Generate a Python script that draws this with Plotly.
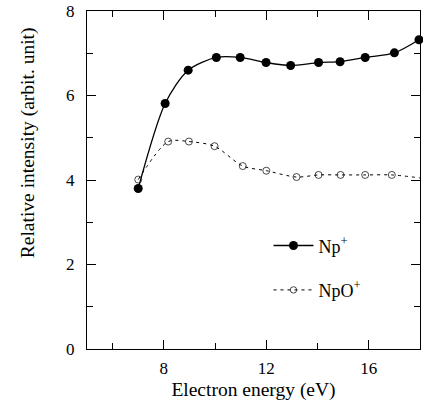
import plotly.graph_objects as go

np_x = [7.0, 8.05, 8.95, 10.05, 10.98, 11.99, 12.95, 14.04, 14.88, 15.86, 17.0, 17.96]
np_y = [3.80, 5.81, 6.60, 6.90, 6.90, 6.78, 6.71, 6.78, 6.80, 6.90, 7.01, 7.32]

npo_x = [7.0, 8.17, 8.98, 9.98, 11.08, 12.0, 13.18, 14.04, 14.9, 15.86, 16.9, 18.0]
npo_y = [4.01, 4.91, 4.91, 4.80, 4.33, 4.22, 4.07, 4.12, 4.12, 4.12, 4.12, 4.05]
npo_marker_size = [7] * 11 + [0]

x_title = "Electron energy (eV)"
y_title = "Relative intensity (arbit. unit)"

font_family = "Times New Roman, serif"

fig = go.Figure()
fig.add_trace(go.Scatter(
    x=np_x, y=np_y, mode="lines+markers", name="Np<sup>+</sup>",
    line=dict(color="black", width=1.3, shape="spline", smoothing=0.8),
    marker=dict(symbol="circle", size=9, color="black"),
    legendgroup="a", cliponaxis=False,
))
fig.add_trace(go.Scatter(
    x=npo_x, y=npo_y, mode="lines+markers", name="NpO<sup>+</sup>",
    line=dict(color="black", width=1, shape="spline", smoothing=0.8, dash="3px,4px"),
    marker=dict(symbol="circle-open", size=npo_marker_size, color="black", line=dict(width=1)),
    legendgroup="b", cliponaxis=False,
))

axis_common = dict(
    showline=True, linecolor="black", linewidth=1, mirror="ticks",
    ticks="inside", ticklen=9, tickwidth=1, tickcolor="black",
    showgrid=False, zeroline=False,
    tickfont=dict(family="serif", size=17, color="black"),
)

fig.update_xaxes(
    range=[5, 18], tick0=0, dtick=4,
    minor=dict(dtick=2, tick0=0, ticks="inside", ticklen=6, tickcolor="black", showgrid=False),
    ticklabelstandoff=4,
    title=dict(text=x_title, font=dict(family=font_family, size=19.5, color="black"), standoff=4),
    **axis_common,
)
fig.update_yaxes(
    range=[0, 8], tick0=0, dtick=2,
    minor=dict(dtick=1, tick0=0, ticks="inside", ticklen=6, tickcolor="black", showgrid=False),
    ticklabelstandoff=8,
    **axis_common,
)

fig.add_annotation(
    text=y_title, textangle=-90, xref="paper", yref="paper",
    x=-0.177, y=0.609, xanchor="center", yanchor="middle", showarrow=False,
    font=dict(family=font_family, size=19.5, color="black"),
)

fig.update_layout(
    width=423, height=407,
    margin=dict(l=87, r=3, t=11, b=58),
    paper_bgcolor="white", plot_bgcolor="white",
    font=dict(family=font_family, size=17, color="black"),
    showlegend=True,
    legend=dict(
        x=0.545, y=0.36, xanchor="left", yanchor="top",
        bgcolor="rgba(0,0,0,0)", traceorder="grouped", tracegroupgap=18,
        font=dict(family=font_family, size=18, color="black"),
        itemwidth=40,
    ),
)

fig.write_html(
    "out.html",
    config={"displayModeBar": False},
    post_script="document.body.style.margin='0';document.body.style.overflow='hidden';",
)
